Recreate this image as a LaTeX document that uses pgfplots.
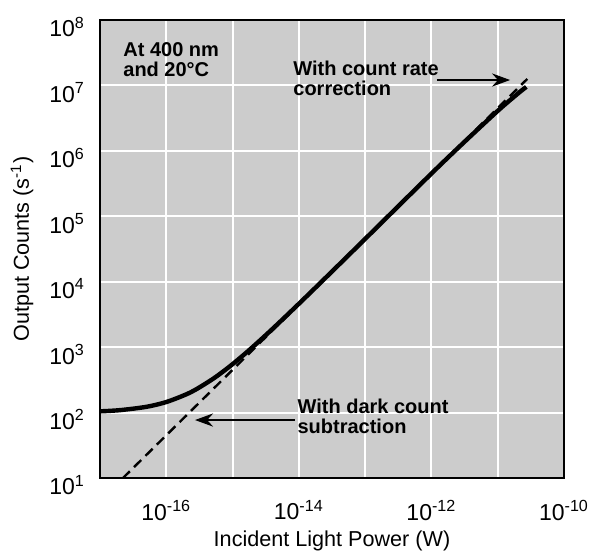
\documentclass[border=0pt]{standalone}
\usepackage{fontspec}
\setmainfont{Liberation Sans}
\usepackage{pgfplots}
\pgfplotsset{compat=1.18}
\usetikzlibrary{arrows.meta}

\begin{document}
\begin{tikzpicture}
\begin{axis}[
    scale only axis, width=232pt, height=229pt,
    xmode=log, ymode=log,
    xmin=1e-17, xmax=1e-10, ymin=1e1, ymax=1e8,
    xtick={1e-17,1e-16,1e-15,1e-14,1e-13,1e-12,1e-11,1e-10},
    xticklabels={{},{10\textsuperscript{-16}},{},{10\textsuperscript{-14}},{},{10\textsuperscript{-12}},{},{10\textsuperscript{-10}}},
    ytick={1e1,1e2,1e3,1e4,1e5,1e6,1e7,1e8},
    yticklabels={{10\textsuperscript{1}},{10\textsuperscript{2}},{10\textsuperscript{3}},{10\textsuperscript{4}},{10\textsuperscript{5}},{10\textsuperscript{6}},{10\textsuperscript{7}},{10\textsuperscript{8}}},
    major tick length=0, minor tick length=0,
    tick label style={font=\fontsize{11.5}{13}\selectfont},
    xticklabel style={yshift=-7.5pt},
    yticklabel style={xshift=-4pt, yshift=-3.5pt},
    xlabel={Incident Light Power (W)},
    ylabel={Output Counts (s\textsuperscript{-1})},
    label style={font=\fontsize{10.8}{12}\selectfont},
    xlabel style={at={(rel axis cs:0.5,-0.1376)}, anchor=center},
    ylabel style={at={(rel axis cs:-0.168,0.5)}, anchor=center},
    axis background/.style={fill=black!20},
    grid=major,
    major grid style={white, line width=1pt},
    axis line style={line width=1.4pt},
    clip=true,
]
% mit Dunkelzaehlrate-Abzug (gestrichelt)
\addplot[black, line width=1.2pt, dash pattern=on 5pt off 3pt]
coordinates {(2.2e-17,9.9) (2.8e-11,1.26e7)};

% gemessene Zaehlrate
\addplot[black, line width=2.2pt, smooth]
coordinates {
    (1e-17,104.5) (2e-17,109) (5e-17,122.5) (1e-16,145) (2e-16,190)
    (3e-16,235) (5e-16,325) (7e-16,415) (1e-15,550) (1.5e-15,775)
    (2e-15,1000) (3e-15,1450) (5e-15,2350) (1e-14,4600) (2e-14,9100)
    (5e-14,22600) (1e-13,45100) (1e-12,4.5e5) (3e-12,1.31e6)
    (1e-11,4.08e6) (2e-11,7.46e6) (2.7e-11,9.5e6)
};

\node[anchor=west, align=left, inner sep=0pt, font=\fontsize{10}{10}\selectfont\bfseries]
    at (rel axis cs:0.0496,0.9127) {At 400 nm\\and 20°C};
\node[anchor=west, align=left, inner sep=0pt, font=\fontsize{10}{10}\selectfont\bfseries]
    at (rel axis cs:0.416,0.873) {With count rate\\correction};
\draw[line width=1.3pt, -{Stealth[length=9pt,width=6.5pt]}]
    (rel axis cs:0.726,0.869) -- (rel axis cs:0.884,0.869);
\node[anchor=west, align=left, inner sep=0pt, font=\fontsize{10}{10}\selectfont\bfseries]
    at (rel axis cs:0.425,0.135) {With dark count\\subtraction};
\draw[line width=1.3pt, -{Stealth[length=9pt,width=6.5pt]}]
    (rel axis cs:0.42,0.1266) -- (rel axis cs:0.2047,0.1266);

\coordinate (bbsw) at (rel axis cs:-0.2155,-0.1703);
\coordinate (bbne) at (rel axis cs:1.0711,1.0437);
\end{axis}
\pgfresetboundingbox
\path (bbsw) rectangle (bbne);
\end{tikzpicture}
\end{document}
